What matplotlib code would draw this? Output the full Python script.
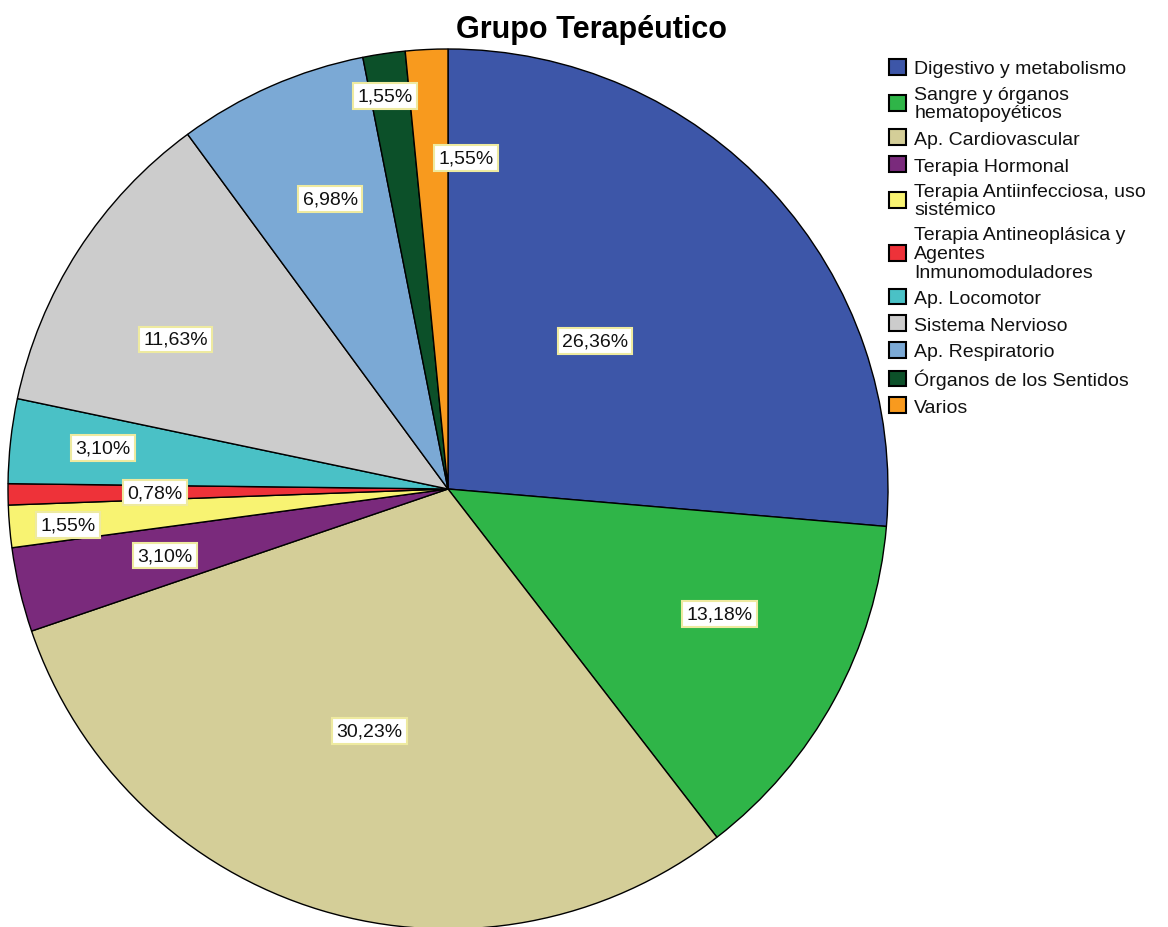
import numpy as np
import matplotlib
matplotlib.use("Agg")
import matplotlib.pyplot as plt

# data (counts out of 129 -> percentages shown)
categories = [
    "Digestivo y metabolismo",
    "Sangre y órganos\nhematopoyéticos",
    "Ap. Cardiovascular",
    "Terapia Hormonal",
    "Terapia Antiinfecciosa, uso\nsistémico",
    "Terapia Antineoplásica y\nAgentes\nInmunomoduladores",
    "Ap. Locomotor",
    "Sistema Nervioso",
    "Ap. Respiratorio",
    "Órganos de los Sentidos",
    "Varios",
]
counts = [34, 17, 39, 4, 2, 1, 4, 15, 9, 2, 2]
colors = ["#3D56A8", "#2FB548", "#D4CE98", "#7A2A7C", "#F8F372",
          "#EE3239", "#4AC1C6", "#CCCCCC", "#7BA9D5", "#0C5029", "#F89A1E"]

# label placement (fraction of radius, angle tweak in degrees)
label_dist = [0.474, 0.68, 0.578, 0.661, 0.868, 0.666, 0.79, 0.706, 0.711, 0.905, 0.753]
label_dang = [2.6, 3.9, -1.2, 0, 0.5, 0, -0.5, 4.0, -1.6, 0.7, -5.9]

plt.rcParams['font.family'] = ['Liberation Sans', 'DejaVu Sans']

fig = plt.figure(figsize=(11.68, 9.28), dpi=100)
ax = fig.add_axes([0, 0, 1, 1])

cx, cy, R = 448, 438, 440
wedges, _ = ax.pie(counts, colors=colors, startangle=90, counterclock=False,
                   center=(cx, cy), radius=R,
                   wedgeprops=dict(edgecolor="black", linewidth=1.0))
ax.set_xlim(0, 1168)
ax.set_ylim(0, 928)
ax.set_aspect('auto')
ax.axis('off')

total = sum(counts)
for i, w in enumerate(wedges):
    mid = np.deg2rad((w.theta1 + w.theta2) / 2 + label_dang[i])
    x = cx + label_dist[i] * R * np.cos(mid)
    y = cy + label_dist[i] * R * np.sin(mid)
    pct = "{:.2f}%".format(100 * counts[i] / total).replace(".", ",")
    ax.text(x, y, pct, ha="center", va="center", fontsize=14, color="#111111",
            bbox=dict(boxstyle="square,pad=0.22", facecolor="white",
                      edgecolor="#EEEAA0", linewidth=1.5))

fig.text(592 / 1168, 1 - 30 / 928, "Grupo Terapéutico", ha="center", va="center",
         fontsize=22, fontweight="bold")

leg = fig.legend(wedges, categories, loc="upper left",
                 bbox_to_anchor=(889 / 1168, 1 - 60 / 928),
                 frameon=False, fontsize=14, borderpad=0, borderaxespad=0,
                 handlelength=0.85, handleheight=0.85, handletextpad=0.45,
                 labelspacing=0.42)
for t in leg.get_texts():
    t.set_linespacing(1.12)
    t.set_color("#111111")
for h in leg.legend_handles:
    h.set_linewidth(1.5)

fig.savefig("out.png", dpi=100)
